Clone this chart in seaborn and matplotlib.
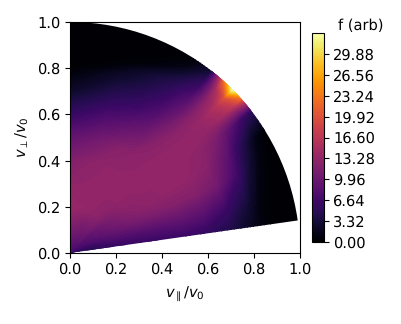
import numpy as np
import seaborn as sns
import matplotlib
matplotlib.use("Agg")
import matplotlib.pyplot as plt
from matplotlib.patches import Wedge

# speed / pitch grid the values were read on
speed = [0, .1, .2, .3, .4, .5, .6, .7, .8, .85, .9, .95, 1.0, 1.1]
angle = [8.1, 15, 25, 32, 38, 42, 45, 48, 52, 58, 65, 75, 90]

f_08 = [5.0, 4.5, 5.5, 5.8, 6.0, 6.0, 5.5, 4.2, 1.8, .7, .1, 0, 0, 0]
f_15 = [5.0, 5.5, 7.0, 7.5, 8.0, 8.5, 8.0, 6.0, 3.0, 1.0, .2, 0, 0, 0]
f_25 = [5.5, 7.0, 9.0, 10.5, 11.5, 12.0, 12.0, 10.8, 6.5, 3.5, 1.2, .2, 0, 0]
f_32 = [6.0, 8.0, 10.0, 11.8, 12.8, 13.0, 13.0, 12.3, 9.0, 6.0, 3.5, 1.2, .2, .2]
f_38 = [6.0, 8.5, 10.5, 12.3, 12.9, 13.0, 13.0, 12.9, 11.5, 9.8, 8.0, 6.0, 5.0, 5.0]
f_42 = [6.0, 8.5, 11.0, 12.8, 13.0, 13.0, 13.0, 13.0, 13.2, 14.0, 15.0, 17.0, 22.0, 22.0]
f_45 = [6.5, 9.0, 11.5, 12.8, 13.0, 13.0, 13.0, 13.0, 13.5, 14.5, 16.0, 20.0, 33.0, 33.0]
f_48 = [6.5, 9.5, 12.0, 13.0, 13.0, 13.0, 12.9, 12.6, 12.4, 12.5, 13.0, 15.0, 22.0, 22.0]
f_52 = [6.5, 10.0, 12.5, 13.0, 13.0, 12.9, 12.3, 11.0, 9.0, 8.0, 6.5, 5.0, 3.0, 3.0]
f_58 = [6.5, 10.0, 12.8, 13.0, 13.0, 12.6, 10.5, 8.0, 6.0, 5.0, 3.5, 1.2, .1, .1]
f_65 = [7.0, 10.0, 13.0, 13.0, 13.0, 12.2, 9.2, 6.2, 4.0, 3.0, .7, 0, 0, 0]
f_75 = [7.0, 10.5, 13.3, 13.0, 12.8, 10.8, 7.8, 4.8, 2.2, .4, 0, 0, 0, 0]
f_90 = [7.0, 11.0, 13.6, 12.9, 11.8, 9.2, 5.8, 2.5, .2, 0, 0, 0, 0, 0]

f = np.array([f_08, f_15, f_25, f_32, f_38, f_42, f_45, f_48, f_52, f_58, f_65, f_75, f_90])

tick_vals = [0, 3.32, 6.64, 9.96, 13.28, 16.60, 19.92, 23.24, 26.56, 29.88]
fmax = 33.2

sns.set_theme(style="ticks", rc={"font.size": 10.5, "axes.linewidth": 0.8,
                                 "text.color": "black", "axes.labelcolor": "black",
                                 "xtick.color": "black", "ytick.color": "black",
                                 "axes.edgecolor": "black", "text.hinting": "no_hinting",
                                 "xtick.direction": "out", "ytick.direction": "out"})
plt.rcParams["font.family"] = ["DejaVu Sans"]

W, H = 401, 324
fig = plt.figure(figsize=(W / 100, H / 100), dpi=100)
ax = fig.add_axes([70 / W, 1 - 253 / H, 230 / W, 231 / H])

r, th = np.meshgrid(speed, np.radians(angle))
X = r * np.cos(th)
Y = r * np.sin(th)

cmap = sns.color_palette("inferno", as_cmap=True)
levels = np.linspace(0, fmax, 101)
cs = ax.contourf(X, Y, f, levels=levels, cmap=cmap)

# clip to the real arc of the wedge
wedge = Wedge((0, 0), 1.0, angle[0], 90, transform=ax.transData, fc="none", ec="none")
ax.add_patch(wedge)
cs.set_clip_path(wedge)

ax.set_xlim(0, 1)
ax.set_ylim(0, 1)
ax.set_xticks(np.arange(0, 1.01, .2))
ax.set_yticks(np.arange(0, 1.01, .2))
ax.tick_params(labelsize=10.5, width=0.8, length=3.5, pad=3.5)
ax.set_xlabel(r"$v_\parallel/v_0$", fontsize=10.5, labelpad=5)
ax.set_ylabel(r"$v_\perp/v_0$", fontsize=10.5, labelpad=4)

cax = fig.add_axes([312 / W, 1 - 242 / H, 12 / W, 209 / H])
cb = fig.colorbar(cs, cax=cax)
cb.set_ticks(tick_vals)
cb.ax.set_yticklabels(["%.2f" % t for t in tick_vals])
cb.ax.tick_params(labelsize=10.5, width=0.8, length=3.5, pad=3)
cb.outline.set_linewidth(0.8)
cb.ax.set_title("f (arb)", fontsize=10.5, x=4.05, pad=-6)

fig.savefig("out.png", dpi=100)
